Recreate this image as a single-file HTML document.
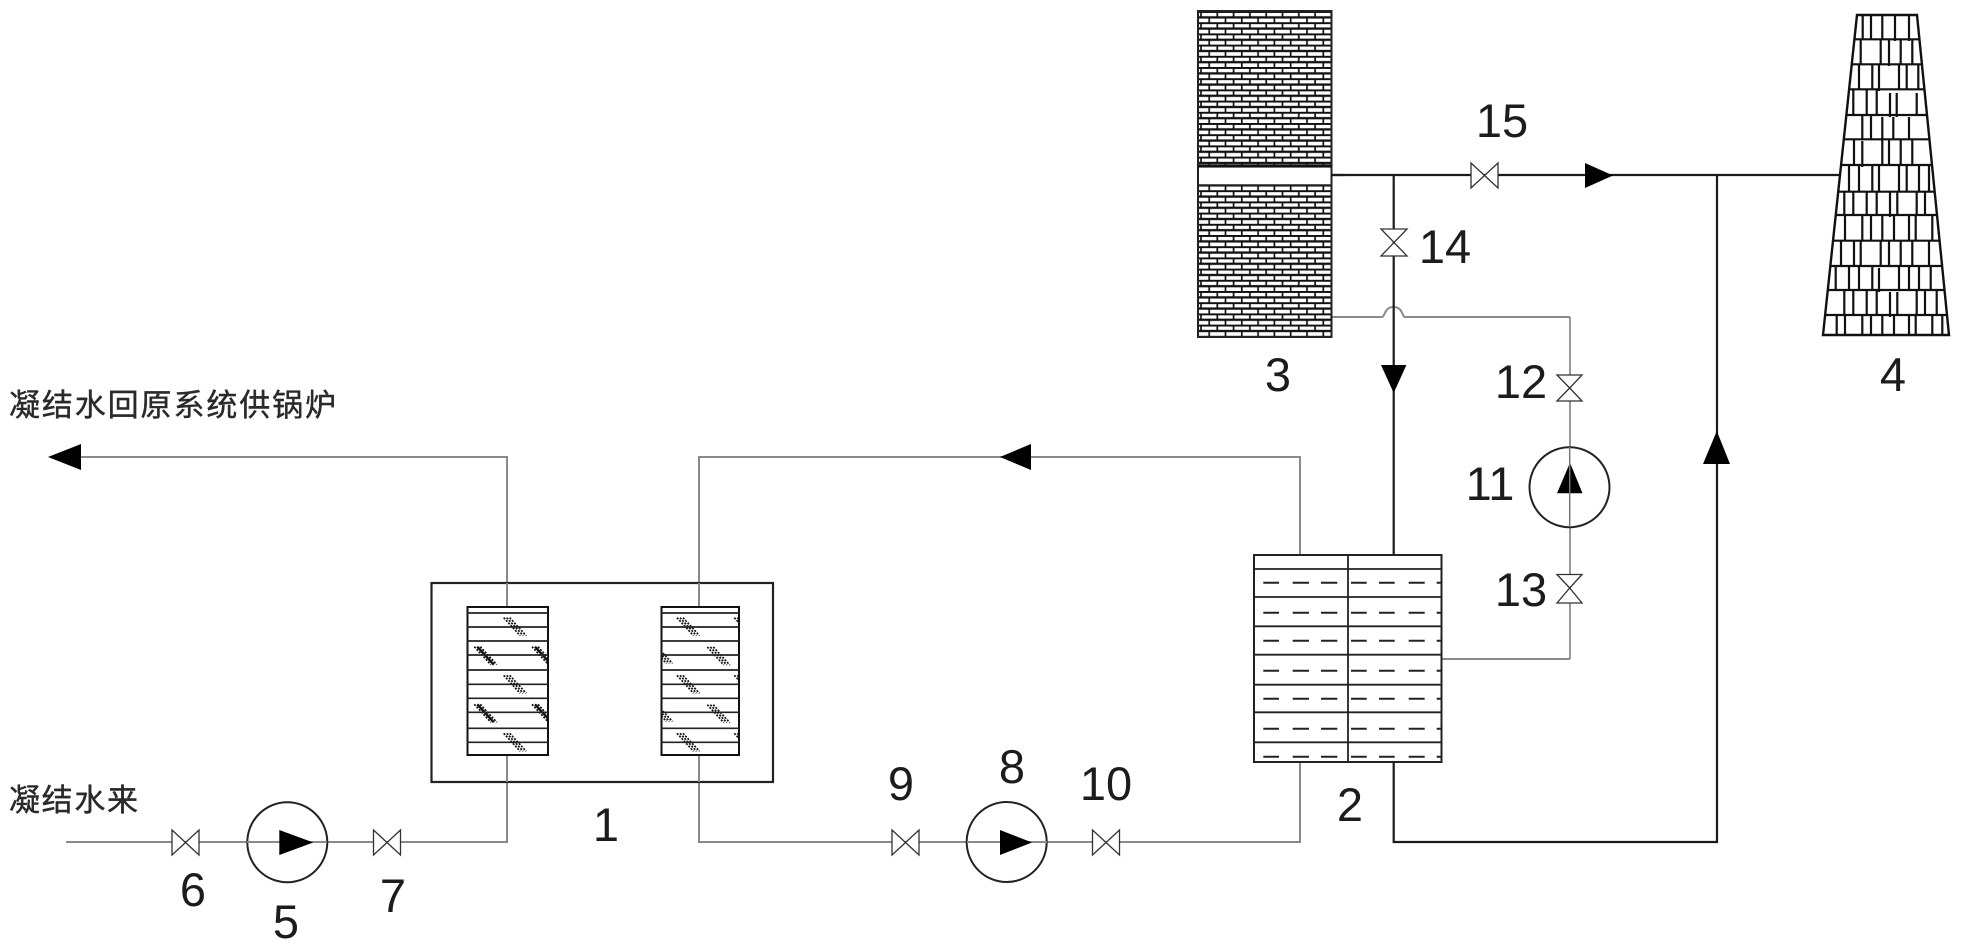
<!DOCTYPE html>
<html>
<head>
<meta charset="utf-8">
<style>
html,body{margin:0;padding:0;background:#fff;width:1961px;height:950px;overflow:hidden}
svg{display:block}
.n{font-family:"Liberation Sans",sans-serif;font-size:47px;fill:#1c1c1c;text-anchor:middle}
.c{font-family:"Liberation Sans","Noto Sans CJK SC",sans-serif;font-size:31px;fill:#2a2a2a;stroke:#2a2a2a;stroke-width:.4}
.g{fill:none;stroke:#8a8a8a;stroke-width:2}
.gt{fill:none;stroke:#777;stroke-width:1.5}
.k{fill:none;stroke:#1a1a1a;stroke-width:2.2}
.v{fill:#fff;stroke:#333;stroke-width:1.3}
.p{fill:#fff;stroke:#222;stroke-width:2}
</style>
</head>
<body>
<svg width="1961" height="950" viewBox="0 0 1961 950" xmlns="http://www.w3.org/2000/svg">
<defs>
<pattern id="brick" x="1198" y="11" width="16.3" height="11.2" patternUnits="userSpaceOnUse">
<rect width="16.3" height="11.2" fill="#fff"/>
<path d="M0 0.8H16.3M0 6.4H16.3" stroke="#111" stroke-width="2.3" fill="none"/>
<path d="M3 0V6.4M11.2 6.4V11.2" stroke="#111" stroke-width="1.7" fill="none"/>
</pattern>
<g id="hA" fill="none" stroke="#111" stroke-width="1.7" stroke-dasharray="2 1.4">
<path d="M-11 -9L5.5 9"/><path d="M-8 -9L8.5 9"/><path d="M-5 -9L11.5 9"/>
</g>
<g id="hB" fill="none" stroke="#111" stroke-width="1.7" stroke-dasharray="2 1.4">
<path d="M-11 -9L5.5 9"/><path d="M-5 -9L11.5 9"/><path d="M-8 -9L8.5 9" stroke-dasharray="none" stroke-width="2.4"/>
</g>
<clipPath id="c1"><rect x="467" y="607" width="81" height="148"/></clipPath>
<clipPath id="c2"><rect x="661" y="607" width="78" height="148"/></clipPath>
</defs>

<!-- gray pipes -->
<path class="g" d="M66 842H507V755M507 607V457H60"/>
<path class="g" d="M699 607V457H1300V555M699 755V842H1300V762"/>
<path class="g" d="M1442 659H1570"/>
<path class="g" d="M1332 317H1382C1385 317 1384 307 1393.7 307C1403 307 1402 317 1405 317H1570"/>
<path class="gt" d="M1570 317V659"/>

<!-- black pipes -->
<path class="k" d="M1332 175H1840"/>
<path class="k" d="M1393.7 175V555"/>
<path class="k" d="M1393.7 762V842H1717V175"/>

<!-- unit 1 -->
<rect x="431.5" y="583" width="341.5" height="199" fill="none" stroke="#222" stroke-width="2.2"/>
<path class="g" d="M507 583V607M507 755V782M699 583V607M699 755V782"/>
<g clip-path="url(#c1)">
<use href="#hA" x="514.7" y="626.7"/><use href="#hA" x="514.7" y="684.3"/><use href="#hA" x="514.7" y="742.3"/>
<use href="#hB" x="485.3" y="655.7"/><use href="#hB" x="485.3" y="713.3"/>
<use href="#hB" x="543" y="655.7"/><use href="#hB" x="543" y="713.3"/>
</g>
<g clip-path="url(#c2)">
<use href="#hA" x="688" y="626.7"/><use href="#hA" x="688" y="684.3"/><use href="#hA" x="688" y="742.3"/>
<use href="#hA" x="718.3" y="656"/><use href="#hA" x="718.3" y="713.7"/>
<use href="#hA" x="661" y="654.5"/><use href="#hA" x="661" y="712.5"/>
<use href="#hA" x="745.3" y="626.7"/><use href="#hA" x="745.3" y="684.3"/><use href="#hA" x="745.3" y="742.3"/>
</g>
<rect x="467.5" y="607" width="80.5" height="148" fill="none" stroke="#111" stroke-width="2"/>
<rect x="661.5" y="607" width="77.5" height="148" fill="none" stroke="#111" stroke-width="2"/>
<path fill="none" stroke="#222" stroke-width="1.7" d="M467 613H548M467 627H548M467 641H548M467 655H548M467 670H548M467 684.3H548M467 698.3H548M467 712.3H548M467 728.3H548M467 742.3H548"/>
<path fill="none" stroke="#222" stroke-width="1.7" d="M661 613H739M661 627H739M661 641H739M661 655H739M661 670H739M661 684.3H739M661 698.3H739M661 712.3H739M661 728.3H739M661 742.3H739"/>

<!-- unit 2 -->
<rect x="1254" y="555" width="187.5" height="207" fill="#fff" stroke="#222" stroke-width="2"/>
<path fill="none" stroke="#222" stroke-width="1.8" d="M1348 555V762M1254 569H1442M1254 597H1442M1254 626.3H1442M1254 654.7H1442M1254 684.7H1442M1254 712.3H1442M1254 742.3H1442"/>
<g fill="none" stroke="#222" stroke-width="2">
<path id="d1" d="M1263.3 582.7H1279M1292.7 582.7H1309M1321 582.7H1337.3M1351 582.7H1366.7M1379 582.7H1394.7M1408.7 582.7H1424.7M1436.7 582.7H1441.7"/>
<use href="#d1" y="30"/><use href="#d1" y="58"/><use href="#d1" y="88"/><use href="#d1" y="116"/><use href="#d1" y="146"/><use href="#d1" y="174"/>
</g>

<!-- unit 3 -->
<rect x="1198" y="11" width="133.5" height="156" fill="url(#brick)"/>
<rect x="1198" y="185" width="133.5" height="152" fill="url(#brick)"/>
<rect x="1198" y="11" width="133.5" height="326" fill="none" stroke="#222" stroke-width="2"/>
<rect x="1198" y="164.5" width="133.5" height="3.2" fill="#111"/>
<rect x="1199" y="167.7" width="131.5" height="16.7" fill="#fff"/>
<path d="M1198 185H1331.5" stroke="#222" stroke-width="1.6"/>
<path class="k" d="M1331 175H1345"/>

<!-- unit 4 tower -->
<g fill="none" stroke="#111" stroke-width="2.2">
<path stroke-width="2.4" d="M1857 15H1917L1949 335H1823Z"/>
<path d="M1854.5 39.3H1919.4M1851.8 64.3H1922M1849.2 89.3H1924.4M1846.5 115H1927M1843.8 139.3H1929.4M1841.1 165H1932M1838.3 191.7H1934.7M1835.8 215H1937M1833.1 240.7H1939.6M1830.4 266H1942.1M1827.9 290H1944.5M1825.2 315H1947"/>
<path d="M1862.7 15V39M1871 15V39M1882.3 15V39M1895 15V41M1909 15V41"/>
<path d="M1860.7 39V64M1880.7 39V64M1889 39V66M1900.7 39V64M1912.3 39V64"/>
<path d="M1859 64V89M1872.3 64V89M1879 64V91M1899 64V89M1906.7 64V89M1918.3 64V89"/>
<path d="M1853.3 89V115M1866.7 89V115M1876.7 89V115M1890 93V117M1896.7 93V117M1916.7 93V115"/>
<path d="M1862.3 115V139M1871 115V139M1882.3 117V141M1893.3 117V139M1909 117V139"/>
<path d="M1854 139V165M1862.3 141V167M1882.3 139V165M1889 139V165M1900.7 139V165M1912.3 139V165"/>
<path d="M1849 165V192M1859 165V192M1872.3 165V192M1879 165V192M1899 165V192M1906.7 165V192M1919 165V192M1929 165V192"/>
<path d="M1844.3 192V215M1853.3 192V215M1866.7 192V215M1876.7 192V215M1890 192V217M1897.3 192V215M1916.7 192V215M1925 192V215"/>
<path d="M1845 215V241M1862.3 215V241M1871 215V241M1882.3 215V241M1894 215V241M1909 215V241M1915.7 215V241M1932.3 215V241"/>
<path d="M1841 241V266M1854 241V266M1860.7 241V266M1880.7 241V266M1889 241V266M1900.7 241V266M1912.3 241V266M1929 241V266"/>
<path d="M1835.7 266V290M1849 266V290M1859 266V290M1872.3 266V290M1879 268V292M1899 266V290M1909 266V290M1919 266V290M1930.7 266V290"/>
<path d="M1844.3 290V315M1853.3 290V315M1866.7 290V315M1876.7 290V315M1890 292V317M1897.3 292V315M1916.7 290V315M1925 290V315M1936.7 290V315"/>
<path d="M1836.7 315V335M1845 315V335M1862.3 315V335M1871 315V335M1882.3 315V335M1894 315V335M1909 315V335M1915.7 315V335M1932.3 315V335M1942.3 315V335"/>
</g>

<!-- pumps -->
<circle class="p" cx="287.3" cy="842.3" r="40"/>
<path class="g" d="M247 842H327"/>
<polygon points="279.3,830 313.3,842.5 279.3,855" fill="#000"/>
<circle class="p" cx="1006.7" cy="842" r="40"/>
<path class="g" d="M967 842H1047"/>
<polygon points="1000,830 1032,842.5 1000,855" fill="#000"/>
<circle class="p" cx="1569.5" cy="487.3" r="40"/>
<polygon points="1557,493.3 1570,462.7 1582.5,493.3" fill="#000"/>
<path class="gt" d="M1569.7 447V527"/>

<!-- horizontal valves -->
<polygon class="v" points="172,830 185.5,842.5 172,855"/><polygon class="v" points="199,830 185.5,842.5 199,855"/>
<polygon class="v" points="373.5,830 387,842.5 373.5,855"/><polygon class="v" points="400.5,830 387,842.5 400.5,855"/>
<polygon class="v" points="892,830 905.5,842.5 892,855"/><polygon class="v" points="919,830 905.5,842.5 919,855"/>
<polygon class="v" points="1092.5,830 1106,842.5 1092.5,855"/><polygon class="v" points="1119.5,830 1106,842.5 1119.5,855"/>
<polygon class="v" points="1471,163 1484.5,175.5 1471,188"/><polygon class="v" points="1498,163 1484.5,175.5 1498,188"/>

<!-- vertical valves -->
<polygon class="v" points="1381,229 1394,242.5 1407,229"/><polygon class="v" points="1381,256 1394,242.5 1407,256"/>
<polygon class="v" points="1557,375 1569.7,388 1582,375"/><polygon class="v" points="1557,401 1569.7,388 1582,401"/>
<polygon class="v" points="1557,574.5 1569.7,588 1582,574.5"/><polygon class="v" points="1557,603 1569.7,588 1582,603"/>

<!-- arrows -->
<polygon points="48,457 81,444 81,470" fill="#000"/>
<polygon points="1000,457 1031,444 1031,470" fill="#000"/>
<polygon points="1585,163 1613,175.5 1585,188" fill="#000"/>
<polygon points="1381,365 1406.4,365 1393.7,393" fill="#000"/>
<polygon points="1703,464 1716.8,431 1730,464" fill="#000"/>

<!-- labels -->
<text class="n" x="606" y="841">1</text>
<text class="n" x="1350" y="821">2</text>
<text class="n" x="1278" y="391">3</text>
<text class="n" x="1893" y="391">4</text>
<text class="n" x="286" y="938">5</text>
<text class="n" x="193" y="906">6</text>
<text class="n" x="393" y="912">7</text>
<text class="n" x="1012" y="783">8</text>
<text class="n" x="901" y="800">9</text>
<text class="n" x="1106" y="800">10</text>
<text class="n" x="1490" y="500">11</text>
<text class="n" x="1521" y="398">12</text>
<text class="n" x="1521" y="606">13</text>
<text class="n" x="1445" y="263">14</text>
<text class="n" x="1502" y="137">15</text>
<text class="c" x="9" y="416" textLength="327">凝结水回原系统供锅炉</text>
<text class="c" x="9" y="811" textLength="129">凝结水来</text>
</svg>
</body>
</html>
